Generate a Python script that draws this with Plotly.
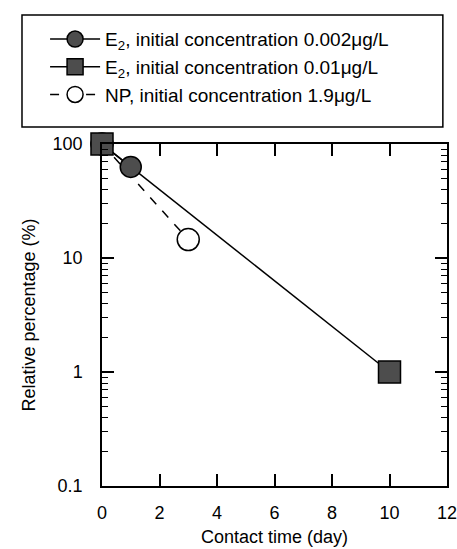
import plotly.graph_objects as go

e2_low_x = [0, 1]
e2_low_y = [100, 63]
e2_high_x = [0, 10]
e2_high_y = [100, 1]
np_x = [0, 3]
np_y = [100, 14.5]

names = [
    "E<sub>2</sub>, initial concentration 0.002μg/L",
    "E<sub>2</sub>, initial concentration 0.01μg/L",
    "NP, initial concentration 1.9μg/L",
]
x_ticks = [0, 2, 4, 6, 8, 10, 12]
y_ticks = [0.1, 1, 10, 100]
y_tick_text = ["0.1", "1", "10", "100"]

FONT = "Liberation Sans, Arial, sans-serif"
fig = go.Figure()
# line of the 0.01 series first, its markers last (square on top)
fig.add_trace(go.Scatter(
    x=e2_high_x, y=e2_high_y, mode="lines", name=names[1],
    line=dict(color="black", width=1.5), cliponaxis=False, showlegend=False,
))
fig.add_trace(go.Scatter(
    x=np_x, y=np_y, mode="lines+markers", name=names[2],
    line=dict(color="black", width=1.5, dash="dash"), cliponaxis=False,
    marker=dict(symbol="circle", size=22, color="white", line=dict(color="black", width=1.5)),
    showlegend=False,
))
fig.add_trace(go.Scatter(
    x=e2_low_x, y=e2_low_y, mode="lines+markers", name=names[0],
    line=dict(color="black", width=1.5), cliponaxis=False,
    marker=dict(symbol="circle", size=21, color="#4d4d4d", line=dict(color="black", width=1.5)),
    showlegend=False,
))
fig.add_trace(go.Scatter(
    x=e2_high_x, y=e2_high_y, mode="markers", name=names[1], cliponaxis=False,
    marker=dict(symbol="square", size=22, color="#4d4d4d", line=dict(color="black", width=1.5)),
    showlegend=False,
))
# legend entries in the reference order
leg_styles = [
    (names[0], "circle", "#4d4d4d", "solid"),
    (names[1], "square", "#4d4d4d", "solid"),
    (names[2], "circle", "white", "dash"),
]
for i, (nm, sym, col, dash) in enumerate(leg_styles):
    fig.add_trace(go.Scatter(
        x=[None], y=[None], mode="lines+markers", name=nm, legendgroup=f"g{i}",
        line=dict(color="black", width=1.5, dash=dash),
        marker=dict(symbol=sym, size=19, color=col, line=dict(color="black", width=1.5)),
    ))

# legend frame
fig.add_shape(type="rect", xref="paper", yref="paper",
              x0=-0.2319, x1=0.988, y0=1.0497, y1=1.377,
              line=dict(color="black", width=1.5), fillcolor="rgba(0,0,0,0)")

fig.update_layout(
    width=457, height=549,
    margin=dict(l=102, r=10, t=144, b=63),
    paper_bgcolor="white", plot_bgcolor="white",
    font=dict(family=FONT, size=18, color="black"),
    legend=dict(
        x=-0.165, y=1.362, xanchor="left", yanchor="top",
        borderwidth=0, bgcolor="rgba(0,0,0,0)",
        font=dict(size=19), itemwidth=50, tracegroupgap=0,
    ),
    xaxis=dict(
        range=[0, 12], tickmode="array", tickvals=x_ticks,
        ticks="inside", ticklen=12, tickwidth=1.5, tickcolor="black",
        showline=True, linecolor="black", linewidth=1.5, mirror="ticks",
        showgrid=False, zeroline=False, automargin=False,
        ticklabeloverflow="allow",
        title=dict(text="Contact time (day)", font=dict(size=18), standoff=8),
        tickfont=dict(size=18),
        ticklabelstandoff=10,
    ),
    yaxis=dict(
        type="log", range=[-1, 2], tickmode="array", tickvals=y_ticks, ticktext=y_tick_text,
        ticks="inside", ticklen=12, tickwidth=1.5, tickcolor="black",
        minor=dict(ticks="inside", ticklen=6, tickwidth=1, tickcolor="black", dtick="D1", showgrid=False),
        showline=True, linecolor="black", linewidth=1.5, mirror="ticks",
        showgrid=False, zeroline=False, automargin=False,
        ticklabeloverflow="allow",
        title=dict(text="Relative percentage (%)", font=dict(size=18), standoff=12),
        tickfont=dict(size=18),
        ticklabelstandoff=14,
    ),
)
fig.write_html("out.html")
